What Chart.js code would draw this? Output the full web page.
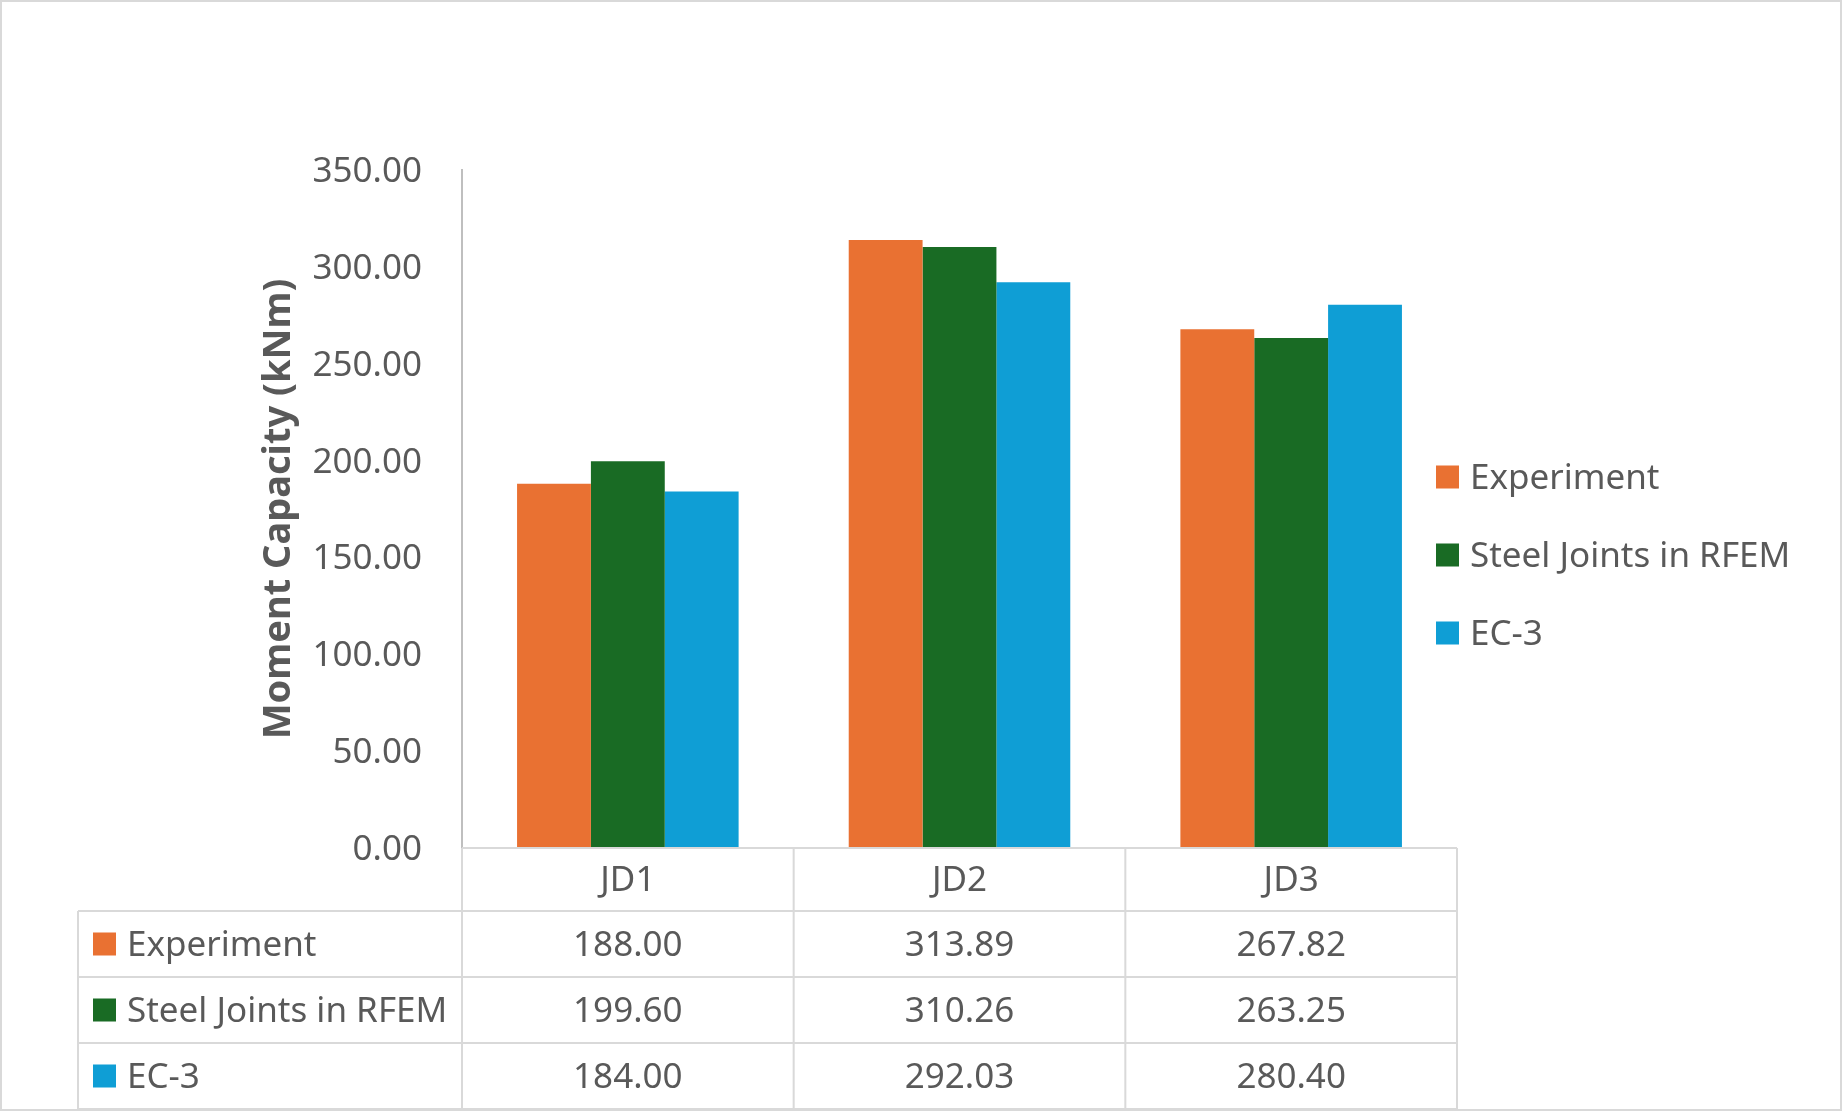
<!DOCTYPE html>
<html>
<head>
<meta charset="utf-8">
<script src="https://cdn.jsdelivr.net/npm/chart.js@4.4.1/dist/chart.umd.min.js"></script>
<style>
  html, body { margin: 0; padding: 0; background: #fff; }
  #wrap { width: 1842px; height: 1111px; }
</style>
</head>
<body>
<div id="wrap"><canvas id="chart" width="1842" height="1111"></canvas></div>
<script>
// values
var categories = ["JD1", "JD2", "JD3"];
var seriesNames = ["Experiment", "Steel Joints in RFEM", "EC-3"];
var experiment = [188.00, 313.89, 267.82];
var steelJoints = [199.60, 310.26, 263.25];
var ec3 = [184.00, 292.03, 280.40];
var yMax = 350, yStep = 50;

var seriesColors = ["#E97132", "#196B24", "#0F9ED5"];
var seriesData = [experiment, steelJoints, ec3];

var FONT = "'Noto Sans', sans-serif";
var TEXT = "#595959";
var LINE = "#D9D9D9";
var fontSize = 35;

var headH = 63, rowH = 66, tableLeft = 78;

// Excel-style data table under the plot, the side legend and the chart frame
var tablePlugin = {
  id: "dataTable",
  afterDraw: function(chart) {
    var ctx = chart.ctx, area = chart.chartArea, x = chart.scales.x;
    var half = (x.getPixelForValue(1) - x.getPixelForValue(0)) / 2;
    var top = area.bottom, rowTop = top + headH, bottom = rowTop + rowH * seriesData.length;

    ctx.save();
    ctx.strokeStyle = LINE;
    ctx.lineWidth = 2;
    ctx.beginPath();
    ctx.moveTo(area.left, top); ctx.lineTo(area.right, top);
    for (var r = 0; r <= seriesData.length; r++) {
      var ly = rowTop + r * rowH;
      ctx.moveTo(tableLeft, ly); ctx.lineTo(area.right, ly);
    }
    ctx.moveTo(tableLeft, rowTop); ctx.lineTo(tableLeft, bottom);
    ctx.moveTo(area.left, top); ctx.lineTo(area.left, bottom);
    for (var i = 0; i < categories.length; i++) {
      var bx = x.getPixelForValue(i) + half;
      ctx.moveTo(bx, top); ctx.lineTo(bx, bottom);
    }
    ctx.stroke();

    ctx.font = fontSize + "px " + FONT;
    ctx.fillStyle = TEXT;
    ctx.textBaseline = "middle";
    for (var s = 0; s < seriesData.length; s++) {
      var cy = rowTop + s * rowH + rowH / 2;
      ctx.fillStyle = seriesColors[s];
      ctx.fillRect(tableLeft + 15, cy - 11.5, 23, 23);
      ctx.fillStyle = TEXT;
      ctx.textAlign = "left";
      ctx.fillText(seriesNames[s], tableLeft + 49, cy + 2);
      ctx.textAlign = "center";
      for (var c = 0; c < categories.length; c++) {
        ctx.fillText(seriesData[s][c].toFixed(2), x.getPixelForValue(c), cy + 2);
      }
    }

    // legend on the right
    ctx.textAlign = "left";
    for (var k = 0; k < seriesNames.length; k++) {
      var ly2 = 477 + k * 78;
      ctx.fillStyle = seriesColors[k];
      ctx.fillRect(1436, ly2 - 11.5, 23, 23);
      ctx.fillStyle = TEXT;
      ctx.fillText(seriesNames[k], 1470, ly2 + 2);
    }

    // outer frame
    ctx.strokeStyle = LINE;
    ctx.lineWidth = 2;
    ctx.strokeRect(1, 1, chart.width - 2, chart.height - 2);
    ctx.restore();
  }
};

new Chart(document.getElementById("chart"), {
  type: "bar",
  data: {
    labels: categories,
    datasets: seriesNames.map(function(name, i) {
      return { label: name, data: seriesData[i], backgroundColor: seriesColors[i], borderWidth: 0 };
    })
  },
  options: {
    responsive: false,
    animation: false,
    devicePixelRatio: 1,
    layout: { padding: { left: 0, top: 170, right: 385, bottom: 200 } },
    datasets: { bar: { categoryPercentage: 0.668, barPercentage: 1 } },
    plugins: { legend: { display: false }, tooltip: { enabled: false } },
    scales: {
      x: {
        grid: { display: false, drawTicks: false },
        border: { display: false },
        ticks: { color: TEXT, font: { family: FONT, size: fontSize }, padding: 12 },
        afterFit: function(s) { s.height = headH; }
      },
      y: {
        min: 0,
        max: yMax,
        grid: { display: false, drawTicks: false },
        border: { display: true, color: "#BFBFBF", width: 2 },
        ticks: {
          stepSize: yStep,
          color: TEXT,
          font: { family: FONT, size: fontSize },
          padding: 40,
          labelOffset: 2,
          callback: function(v) { return v.toFixed(2); }
        },
        title: {
          display: true,
          text: "Moment Capacity (kNm)",
          color: TEXT,
          font: { family: FONT, size: 38, weight: "bold" },
          padding: { top: 256, bottom: 0 }
        },
        afterFit: function(s) { s.width = 462; }
      }
    }
  },
  plugins: [tablePlugin]
});
</script>
</body>
</html>
